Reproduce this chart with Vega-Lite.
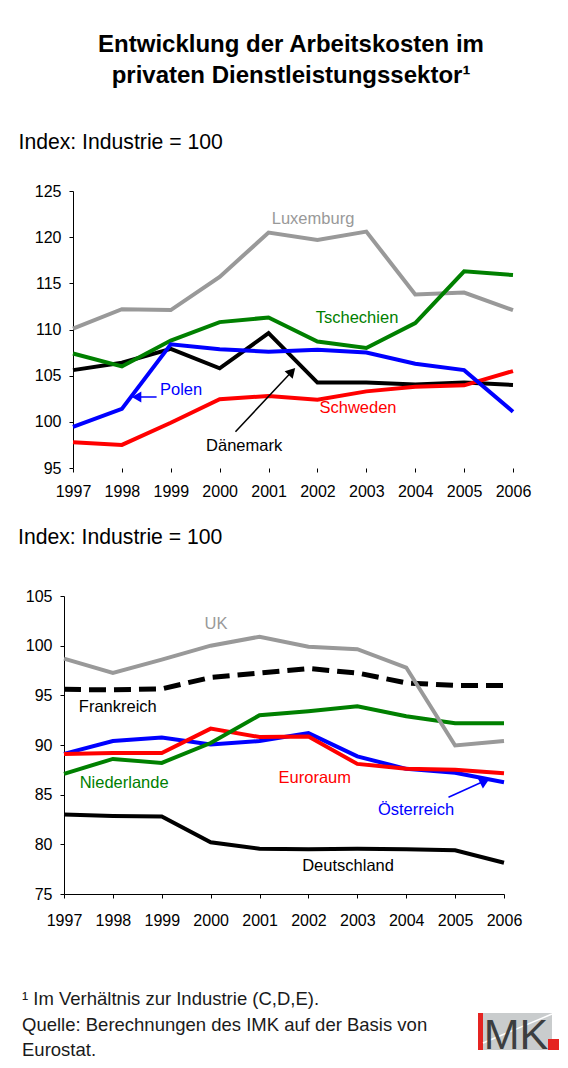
{
  "$schema": "https://vega.github.io/schema/vega-lite/v6.json",
  "background": "white",
  "padding": {"left": 18, "top": 33, "right": 0, "bottom": 0},
  "config": {
    "font": "Liberation Sans",
    "view": {"stroke": null},
    "axis": {"labelFont": "Liberation Sans", "labelFontSize": 16, "labelColor": "#000", "domainColor": "#000", "tickColor": "#000", "tickSize": 4, "grid": false, "labelFlush": false, "labelOverlap": false}
  },
  "title": {
    "text": ["Entwicklung der Arbeitskosten im", "privaten Dienstleistungssektor¹"],
    "fontSize": 24, "fontWeight": "bold", "lineHeight": 31, "anchor": "middle", "dx": 2.5, "offset": 43, "color": "#000", "baseline": "top"
  },
  "datasets": {
    "top": [
      {"country": "Luxemburg", "year": 1997, "value": 110.1}, {"country": "Luxemburg", "year": 1998, "value": 112.2}, {"country": "Luxemburg", "year": 1999, "value": 112.1}, {"country": "Luxemburg", "year": 2000, "value": 115.7}, {"country": "Luxemburg", "year": 2001, "value": 120.5}, {"country": "Luxemburg", "year": 2002, "value": 119.7}, {"country": "Luxemburg", "year": 2003, "value": 120.6}, {"country": "Luxemburg", "year": 2004, "value": 113.8}, {"country": "Luxemburg", "year": 2005, "value": 114.0}, {"country": "Luxemburg", "year": 2006, "value": 112.1},
      {"country": "Dänemark", "year": 1997, "value": 105.6}, {"country": "Dänemark", "year": 1998, "value": 106.4}, {"country": "Dänemark", "year": 1999, "value": 107.9}, {"country": "Dänemark", "year": 2000, "value": 105.8}, {"country": "Dänemark", "year": 2001, "value": 109.6}, {"country": "Dänemark", "year": 2002, "value": 104.25}, {"country": "Dänemark", "year": 2003, "value": 104.25}, {"country": "Dänemark", "year": 2004, "value": 104.05}, {"country": "Dänemark", "year": 2005, "value": 104.25}, {"country": "Dänemark", "year": 2006, "value": 104.0},
      {"country": "Tschechien", "year": 1997, "value": 107.4}, {"country": "Tschechien", "year": 1998, "value": 106.0}, {"country": "Tschechien", "year": 1999, "value": 108.8}, {"country": "Tschechien", "year": 2000, "value": 110.8}, {"country": "Tschechien", "year": 2001, "value": 111.3}, {"country": "Tschechien", "year": 2002, "value": 108.7}, {"country": "Tschechien", "year": 2003, "value": 108.0}, {"country": "Tschechien", "year": 2004, "value": 110.7}, {"country": "Tschechien", "year": 2005, "value": 116.3}, {"country": "Tschechien", "year": 2006, "value": 115.9},
      {"country": "Schweden", "year": 1997, "value": 97.8}, {"country": "Schweden", "year": 1998, "value": 97.5}, {"country": "Schweden", "year": 1999, "value": 99.9}, {"country": "Schweden", "year": 2000, "value": 102.45}, {"country": "Schweden", "year": 2001, "value": 102.8}, {"country": "Schweden", "year": 2002, "value": 102.4}, {"country": "Schweden", "year": 2003, "value": 103.3}, {"country": "Schweden", "year": 2004, "value": 103.8}, {"country": "Schweden", "year": 2005, "value": 103.95}, {"country": "Schweden", "year": 2006, "value": 105.5},
      {"country": "Polen", "year": 1997, "value": 99.45}, {"country": "Polen", "year": 1998, "value": 101.4}, {"country": "Polen", "year": 1999, "value": 108.4}, {"country": "Polen", "year": 2000, "value": 107.85}, {"country": "Polen", "year": 2001, "value": 107.6}, {"country": "Polen", "year": 2002, "value": 107.8}, {"country": "Polen", "year": 2003, "value": 107.5}, {"country": "Polen", "year": 2004, "value": 106.3}, {"country": "Polen", "year": 2005, "value": 105.6}, {"country": "Polen", "year": 2006, "value": 101.1}
    ],
    "bottom": [
      {"country": "Deutschland", "year": 1997, "value": 83.0}, {"country": "Deutschland", "year": 1998, "value": 82.85}, {"country": "Deutschland", "year": 1999, "value": 82.8}, {"country": "Deutschland", "year": 2000, "value": 80.2}, {"country": "Deutschland", "year": 2001, "value": 79.55}, {"country": "Deutschland", "year": 2002, "value": 79.5}, {"country": "Deutschland", "year": 2003, "value": 79.55}, {"country": "Deutschland", "year": 2004, "value": 79.5}, {"country": "Deutschland", "year": 2005, "value": 79.4}, {"country": "Deutschland", "year": 2006, "value": 78.15},
      {"country": "Österreich", "year": 1997, "value": 89.1}, {"country": "Österreich", "year": 1998, "value": 90.4}, {"country": "Österreich", "year": 1999, "value": 90.75}, {"country": "Österreich", "year": 2000, "value": 90.05}, {"country": "Österreich", "year": 2001, "value": 90.4}, {"country": "Österreich", "year": 2002, "value": 91.2}, {"country": "Österreich", "year": 2003, "value": 88.85}, {"country": "Österreich", "year": 2004, "value": 87.6}, {"country": "Österreich", "year": 2005, "value": 87.2}, {"country": "Österreich", "year": 2006, "value": 86.25},
      {"country": "Euroraum", "year": 1997, "value": 89.1}, {"country": "Euroraum", "year": 1998, "value": 89.2}, {"country": "Euroraum", "year": 1999, "value": 89.2}, {"country": "Euroraum", "year": 2000, "value": 91.65}, {"country": "Euroraum", "year": 2001, "value": 90.8}, {"country": "Euroraum", "year": 2002, "value": 90.85}, {"country": "Euroraum", "year": 2003, "value": 88.1}, {"country": "Euroraum", "year": 2004, "value": 87.6}, {"country": "Euroraum", "year": 2005, "value": 87.5}, {"country": "Euroraum", "year": 2006, "value": 87.15},
      {"country": "Niederlande", "year": 1997, "value": 87.1}, {"country": "Niederlande", "year": 1998, "value": 88.6}, {"country": "Niederlande", "year": 1999, "value": 88.2}, {"country": "Niederlande", "year": 2000, "value": 90.2}, {"country": "Niederlande", "year": 2001, "value": 93.0}, {"country": "Niederlande", "year": 2002, "value": 93.4}, {"country": "Niederlande", "year": 2003, "value": 93.9}, {"country": "Niederlande", "year": 2004, "value": 92.9}, {"country": "Niederlande", "year": 2005, "value": 92.2}, {"country": "Niederlande", "year": 2006, "value": 92.2},
      {"country": "UK", "year": 1997, "value": 98.7}, {"country": "UK", "year": 1998, "value": 97.25}, {"country": "UK", "year": 1999, "value": 98.6}, {"country": "UK", "year": 2000, "value": 100.0}, {"country": "UK", "year": 2001, "value": 100.9}, {"country": "UK", "year": 2002, "value": 99.9}, {"country": "UK", "year": 2003, "value": 99.65}, {"country": "UK", "year": 2004, "value": 97.8}, {"country": "UK", "year": 2005, "value": 89.95}, {"country": "UK", "year": 2006, "value": 90.4}
    ],
    "frankreich": [
      {"country": "Frankreich", "year": 1997, "value": 95.6}, {"country": "Frankreich", "year": 1998, "value": 95.55}, {"country": "Frankreich", "year": 1999, "value": 95.65}, {"country": "Frankreich", "year": 2000, "value": 96.8}, {"country": "Frankreich", "year": 2001, "value": 97.25}, {"country": "Frankreich", "year": 2002, "value": 97.7}, {"country": "Frankreich", "year": 2003, "value": 97.25}, {"country": "Frankreich", "year": 2004, "value": 96.25}, {"country": "Frankreich", "year": 2005, "value": 96.0}, {"country": "Frankreich", "year": 2006, "value": 96.0}
    ],
    "labelsTop": [
      {"country": "Luxemburg", "year": 2001.91, "value": 122.0},
      {"country": "Tschechien", "year": 2002.81, "value": 111.25},
      {"country": "Polen", "year": 1999.21, "value": 103.45},
      {"country": "Schweden", "year": 2002.83, "value": 101.5},
      {"country": "Dänemark", "year": 2000.5, "value": 97.4}
    ],
    "labelsBottom": [
      {"country": "UK", "year": 2000.11, "value": 102.2},
      {"country": "Frankreich", "year": 1998.1, "value": 93.83},
      {"country": "Niederlande", "year": 1998.23, "value": 86.18},
      {"country": "Euroraum", "year": 2002.13, "value": 86.68},
      {"country": "Österreich", "year": 2004.2, "value": 83.46},
      {"country": "Deutschland", "year": 2002.81, "value": 77.82}
    ],
    "arrowsTop": [
      {"country": "Polen", "year": 1998.71, "value": 102.69, "year2": 1998.3, "value2": 102.69},
      {"country": "Dänemark", "year": 2000.323, "value": 98.93, "year2": 2001.478, "value2": 105.45}
    ],
    "arrowsBottom": [
      {"country": "Österreich", "year": 2004.865, "value": 84.74, "year2": 2005.61, "value2": 86.4}
    ],
    "reference": [{"level": 100}],
    "logo": [
      {"part": "grey", "lx": 5, "lx2": 74, "ly": 0, "ly2": 37},
      {"part": "red", "lx": 0, "lx2": 5, "ly": 0, "ly2": 37},
      {"part": "red", "lx": 70, "lx2": 81, "ly": 26, "ly2": 37}
    ],
    "logoLine": [{"lx": 5, "ly": 30, "lx2": 74, "ly2": 1}],
    "logoText": [{"text": "MK", "lx": 38, "ly": 36}]
  },
  "vconcat": [
    {
      "width": 449, "height": 277,
      "encoding": {
        "x": {"field": "year", "type": "quantitative", "scale": {"domain": [1996.816, 2006], "nice": false, "zero": false},
              "axis": {"values": [1997, 1998, 1999, 2000, 2001, 2002, 2003, 2004, 2005, 2006], "format": "d", "title": null, "labelPadding": 11, "domain": false}},
        "y": {"field": "value", "type": "quantitative", "scale": {"domain": [95, 125], "nice": false, "zero": false},
              "axis": {"values": [95, 100, 105, 110, 115, 120, 125], "labelPadding": 8, "offset": -9,
                       "title": "Index: Industrie = 100", "titleAngle": 0, "titleAlign": "left", "titleBaseline": "middle",
                       "titleX": -55, "titleY": -49, "titleFontSize": 21.2, "titleFontWeight": "normal", "titleColor": "#000", "titleFont": "Liberation Sans"}}
      },
      "layer": [
        {"data": {"name": "reference"}, "mark": {"type": "rule", "strokeWidth": 1, "color": "#000"},
         "encoding": {"x": {"datum": 1997}, "x2": {"datum": 2006}, "y": {"datum": 95}}},
        {"data": {"name": "top"}, "mark": {"type": "line", "strokeWidth": 4},
         "encoding": {"color": {"field": "country", "type": "nominal", "legend": null, "sort": null,
           "scale": {"domain": ["Luxemburg", "Tschechien", "Dänemark", "Polen", "Schweden", "UK", "Frankreich", "Niederlande", "Euroraum", "Österreich", "Deutschland", "grey", "red"], "range": ["#999999", "#008000", "#000000", "#0000ff", "#ff0000", "#999999", "#000000", "#008000", "#ff0000", "#0000ff", "#000000", "#c9cccd", "#e52421"]}}}},
        {"data": {"name": "reference"}, "mark": {"type": "rule", "strokeWidth": 3, "strokeDash": [3.5, 3.7], "color": "#000"},
         "encoding": {"x": {"datum": 1997}, "x2": {"datum": 2006}, "y": {"field": "level", "type": "quantitative"}}},
        {"data": {"name": "labelsTop"}, "mark": {"type": "text", "fontSize": 16.5, "align": "center", "baseline": "middle"},
         "encoding": {"text": {"field": "country"}, "color": {"field": "country", "type": "nominal", "legend": null,
           "scale": {"domain": ["Luxemburg", "Tschechien", "Dänemark", "Polen", "Schweden", "UK", "Frankreich", "Niederlande", "Euroraum", "Österreich", "Deutschland", "grey", "red"], "range": ["#999999", "#008000", "#000000", "#0000ff", "#ff0000", "#999999", "#000000", "#008000", "#ff0000", "#0000ff", "#000000", "#c9cccd", "#e52421"]}}}},
        {"data": {"name": "arrowsTop"}, "mark": {"type": "rule", "strokeWidth": 1.5},
         "encoding": {"x2": {"field": "year2"}, "y2": {"field": "value2"}, "color": {"field": "country", "type": "nominal", "legend": null,
           "scale": {"domain": ["Luxemburg", "Tschechien", "Dänemark", "Polen", "Schweden", "UK", "Frankreich", "Niederlande", "Euroraum", "Österreich", "Deutschland", "grey", "red"], "range": ["#999999", "#008000", "#000000", "#0000ff", "#ff0000", "#999999", "#000000", "#008000", "#ff0000", "#0000ff", "#000000", "#c9cccd", "#e52421"]}}}},
        {"data": {"name": "arrowsTop"}, "transform": [{"filter": "datum.country === 'Polen'"}],
         "mark": {"type": "point", "shape": "triangle-up", "filled": true, "opacity": 1, "size": 121, "angle": 270, "color": "#0000ff"},
         "encoding": {"x": {"field": "year2", "type": "quantitative"}, "y": {"field": "value2", "type": "quantitative"}}},
        {"data": {"name": "arrowsTop"}, "transform": [{"filter": "datum.country === 'Dänemark'"}],
         "mark": {"type": "point", "shape": "triangle-up", "filled": true, "opacity": 1, "size": 121, "angle": 43, "color": "#000000"},
         "encoding": {"x": {"field": "year2", "type": "quantitative"}, "y": {"field": "value2", "type": "quantitative"}}}
      ]
    },
    {
      "width": 440, "height": 298,
      "title": {"text": "Index: Industrie = 100", "anchor": "start", "frame": "group", "dx": -46, "fontSize": 21.2, "fontWeight": "normal", "offset": 40, "color": "#000"},
      "encoding": {
        "x": {"field": "year", "type": "quantitative", "scale": {"domain": [1997, 2006], "nice": false, "zero": false},
              "axis": {"values": [1997, 1998, 1999, 2000, 2001, 2002, 2003, 2004, 2005, 2006], "format": "d", "title": null, "labelPadding": 14}},
        "y": {"field": "value", "type": "quantitative", "scale": {"domain": [75, 105], "nice": false, "zero": false},
              "axis": {"values": [75, 80, 85, 90, 95, 100, 105], "title": null, "labelPadding": 8}}
      },
      "layer": [
        {"data": {"name": "frankreich"}, "mark": {"type": "line", "strokeWidth": 5, "strokeDash": [17, 8], "color": "#000"}},
        {"data": {"name": "bottom"}, "mark": {"type": "line", "strokeWidth": 4},
         "encoding": {"color": {"field": "country", "type": "nominal", "legend": null, "sort": null,
           "scale": {"domain": ["Luxemburg", "Tschechien", "Dänemark", "Polen", "Schweden", "UK", "Frankreich", "Niederlande", "Euroraum", "Österreich", "Deutschland", "grey", "red"], "range": ["#999999", "#008000", "#000000", "#0000ff", "#ff0000", "#999999", "#000000", "#008000", "#ff0000", "#0000ff", "#000000", "#c9cccd", "#e52421"]}}}},
        {"data": {"name": "reference"}, "mark": {"type": "rule", "strokeWidth": 3, "strokeDash": [3.5, 3.7], "color": "#000"},
         "encoding": {"x": {"datum": 1997}, "x2": {"datum": 2006}, "y": {"field": "level", "type": "quantitative"}}},
        {"data": {"name": "labelsBottom"}, "mark": {"type": "text", "fontSize": 16.5, "align": "center", "baseline": "middle"},
         "encoding": {"text": {"field": "country"}, "color": {"field": "country", "type": "nominal", "legend": null,
           "scale": {"domain": ["Luxemburg", "Tschechien", "Dänemark", "Polen", "Schweden", "UK", "Frankreich", "Niederlande", "Euroraum", "Österreich", "Deutschland", "grey", "red"], "range": ["#999999", "#008000", "#000000", "#0000ff", "#ff0000", "#999999", "#000000", "#008000", "#ff0000", "#0000ff", "#000000", "#c9cccd", "#e52421"]}}}},
        {"data": {"name": "arrowsBottom"}, "mark": {"type": "rule", "strokeWidth": 1.5, "color": "#0000ff"},
         "encoding": {"x2": {"field": "year2"}, "y2": {"field": "value2"}}},
        {"data": {"name": "arrowsBottom"},
         "mark": {"type": "point", "shape": "triangle-up", "filled": true, "opacity": 1, "size": 150, "angle": 63.5, "color": "#0000ff"},
         "encoding": {"x": {"field": "year2", "type": "quantitative"}, "y": {"field": "value2", "type": "quantitative"}}}
      ]
    },
    {
      "width": 495, "height": 28,
      "title": {"text": ["¹ Im Verhältnis zur Industrie (C,D,E).", "Quelle: Berechnungen des IMK auf der Basis von", "Eurostat."],
                "anchor": "start", "frame": "group", "dx": -42, "fontSize": 18.5, "fontWeight": "normal", "lineHeight": 25.8, "baseline": "top", "offset": -47, "color": "#1a1a1a"},
      "layer": [
        {"data": {"name": "logo"}, "mark": {"type": "rect", "clip": false},
         "encoding": {"x": {"field": "lx", "type": "quantitative", "scale": {"domain": [-414, 81], "nice": false, "zero": false}, "axis": null},
                      "x2": {"field": "lx2"},
                      "y": {"field": "ly", "type": "quantitative", "scale": {"domain": [9, 37], "nice": false, "zero": false, "reverse": true}, "axis": null},
                      "y2": {"field": "ly2"},
                      "color": {"field": "part", "type": "nominal", "legend": null,
                        "scale": {"domain": ["Luxemburg", "Tschechien", "Dänemark", "Polen", "Schweden", "UK", "Frankreich", "Niederlande", "Euroraum", "Österreich", "Deutschland", "grey", "red"], "range": ["#999999", "#008000", "#000000", "#0000ff", "#ff0000", "#999999", "#000000", "#008000", "#ff0000", "#0000ff", "#000000", "#c9cccd", "#e52421"]}}}},
        {"data": {"name": "logoLine"}, "mark": {"type": "rule", "color": "white", "strokeWidth": 1.5, "clip": false},
         "encoding": {"x": {"field": "lx", "type": "quantitative"}, "x2": {"field": "lx2"}, "y": {"field": "ly", "type": "quantitative"}, "y2": {"field": "ly2"}}},
        {"data": {"name": "logoText"}, "mark": {"type": "text", "font": "Liberation Sans", "fontSize": 43, "align": "center", "baseline": "alphabetic", "color": "#3c3e40", "clip": false},
         "encoding": {"x": {"field": "lx", "type": "quantitative"}, "y": {"field": "ly", "type": "quantitative"}, "text": {"field": "text"}}}
      ]
    }
  ],
  "bounds": "flush",
  "spacing": 128
}
